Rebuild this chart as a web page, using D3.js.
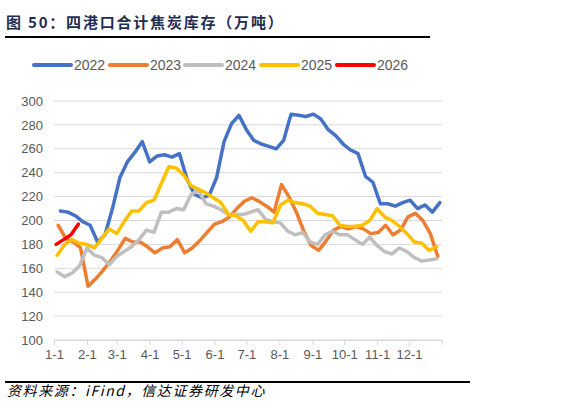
<!DOCTYPE html>
<html>
<head>
<meta charset="utf-8">
<script src="https://cdn.jsdelivr.net/npm/d3@7"></script>
<style>
  body { margin: 0; background: #fff; }
  svg { display: block; }
</style>
</head>
<body>
<div id="chart"></div>
<script>
// weekly stock, 10k tonnes
var years = ["2022", "2023", "2024", "2025", "2026"];
var colors = ["#4472C4", "#ED7D31", "#BFBFBF", "#FFC000", "#FF0000"];
var startDay = [6, 4, 3, 3, 2];   // day of year of first weekly point

var v2022 = [208, 207, 204, 199, 196, 182, 188, 210, 236, 249, 257, 266, 249, 254, 255, 253,
             256, 235, 222, 219, 221, 236, 266, 281, 288, 276, 267, 264, 262, 260, 267, 289,
             288, 287, 289, 285, 276, 271, 264, 259, 256, 237, 232, 214, 214, 212, 215, 217,
             210, 213, 207, 215];
var v2023 = [196, 185, 182, 177, 145, 151, 158, 166, 175, 185, 182, 182, 178, 173, 177, 178,
             184, 173, 177, 183, 190, 197, 199, 203, 210, 216, 219, 216, 212, 207, 230, 220,
             207, 191, 179, 175, 183, 192, 195, 193, 195, 193, 189, 190, 196, 188, 192, 203,
             206, 200, 189, 170];
var v2024 = [157, 153, 156, 162, 177, 171, 169, 163, 170, 174, 178, 184, 192, 190, 207, 207,
             210, 209, 222, 225, 214, 212, 209, 205, 205, 205, 207, 209, 201, 199, 198, 191,
             188, 190, 182, 180, 188, 191, 188, 188, 184, 180, 186, 179, 174, 172, 177, 174,
             169, 166, 167, 168];
var v2025 = [171, 180, 184, 181, 180, 177, 185, 193, 189, 199, 208, 208, 215, 217, 231, 245,
             244, 238, 229, 226, 223, 219, 215, 205, 204, 200, 191, 199, 199, 198, 213, 217,
             215, 214, 212, 206, 205, 204, 196, 195, 195, 196, 200, 210, 203, 200, 195, 189,
             182, 181, 175, 178];
var v2026 = [180, 184, 188, 197];

var seriesValues = [v2022, v2023, v2024, v2025, v2026];
var yTicks = [100, 120, 140, 160, 180, 200, 220, 240, 260, 280, 300];
var monthLabels = ["1-1", "2-1", "3-1", "4-1", "5-1", "6-1", "7-1", "8-1", "9-1", "10-1", "11-1", "12-1"];
var monthDays = [0, 31, 59, 90, 120, 151, 181, 212, 243, 273, 304, 334];

var W = 566, H = 406;
var svg = d3.select("#chart").append("svg")
    .attr("width", W)
    .attr("height", H);

// title
svg.append("text")
    .attr("x", 6)
    .attr("y", 28)
    .style("font-family", "'Noto Sans CJK SC', sans-serif")
    .style("font-size", "15px")
    .style("font-weight", 700)
    .style("letter-spacing", "1.8px")
    .style("fill", "#1F2D50")
    .text("图 50：四港口合计焦炭库存（万吨）");

svg.append("line")
    .attr("x1", 5).attr("x2", 430)
    .attr("y1", 37).attr("y2", 37)
    .style("stroke", "#000")
    .style("stroke-width", 2);

var x = d3.scaleLinear().domain([0, 365]).range([54, 442]);
var y = d3.scaleLinear().domain([100, 300]).range([340, 101]);

// grid
svg.append("g")
    .selectAll("line")
    .data(yTicks)
    .join("line")
    .attr("x1", 54).attr("x2", 442)
    .attr("y1", function(d){ return y(d); })
    .attr("y2", function(d){ return y(d); })
    .style("stroke", "#D9D9D9")
    .style("stroke-width", 1);

// y axis labels
var yAxis = svg.append("g")
    .attr("transform", "translate(54,0)")
    .call(d3.axisLeft(y).tickValues(yTicks).tickSize(0).tickPadding(11));
yAxis.select(".domain").remove();
yAxis.selectAll("text")
    .style("font-family", "'Liberation Sans', Arial, sans-serif")
    .style("font-size", "13px")
    .style("fill", "#595959");

// x axis
var xAxis = svg.append("g")
    .attr("transform", "translate(0,340)")
    .call(d3.axisBottom(x).tickValues(monthDays.concat([365])).tickSize(5).tickPadding(5)
        .tickFormat(function(d, i){ return monthLabels[i] || ""; }));
xAxis.select(".domain").style("stroke", "#D9D9D9");
xAxis.selectAll(".tick line").style("stroke", "#D9D9D9");
xAxis.selectAll("text")
    .style("font-family", "'Liberation Sans', Arial, sans-serif")
    .style("font-size", "13px")
    .style("fill", "#595959");

// lines
var line = d3.line()
    .x(function(d){ return x(d[0]); })
    .y(function(d){ return y(d[1]); });

seriesValues.forEach(function(vals, k){
    var pts = vals.map(function(v, i){ return [startDay[k] + 7 * i, v]; });
    svg.append("path")
        .datum(pts)
        .attr("d", line)
        .style("fill", "none")
        .style("stroke", colors[k])
        .style("stroke-width", 3.5)
        .style("stroke-linejoin", "round")
        .style("stroke-linecap", "round");
});

// legend
var legX = [33, 109, 184, 260, 336];
var leg = svg.append("g").selectAll("g")
    .data(years)
    .join("g")
    .attr("transform", function(d, i){ return "translate(" + legX[i] + ",65)"; });
leg.append("line")
    .attr("x1", 1).attr("x2", 38)
    .attr("y1", 0).attr("y2", 0)
    .style("stroke", function(d, i){ return colors[i]; })
    .style("stroke-width", 4)
    .style("stroke-linecap", "round");
leg.append("text")
    .attr("x", 41)
    .attr("y", 5)
    .style("font-family", "'Liberation Sans', Arial, sans-serif")
    .style("font-size", "14px")
    .style("fill", "#595959")
    .text(function(d){ return d; });

// source
svg.append("line")
    .attr("x1", 5).attr("x2", 470)
    .attr("y1", 382).attr("y2", 382)
    .style("stroke", "#000")
    .style("stroke-width", 2);

svg.append("text")
    .attr("x", 7)
    .attr("y", 396)
    .style("font-family", "'Noto Sans CJK SC', sans-serif")
    .style("font-size", "14px")
    .style("font-style", "italic")
    .style("letter-spacing", "1.6px")
    .style("fill", "#000")
    .text("资料来源：iFind，信达证券研发中心");
</script>
</body>
</html>
